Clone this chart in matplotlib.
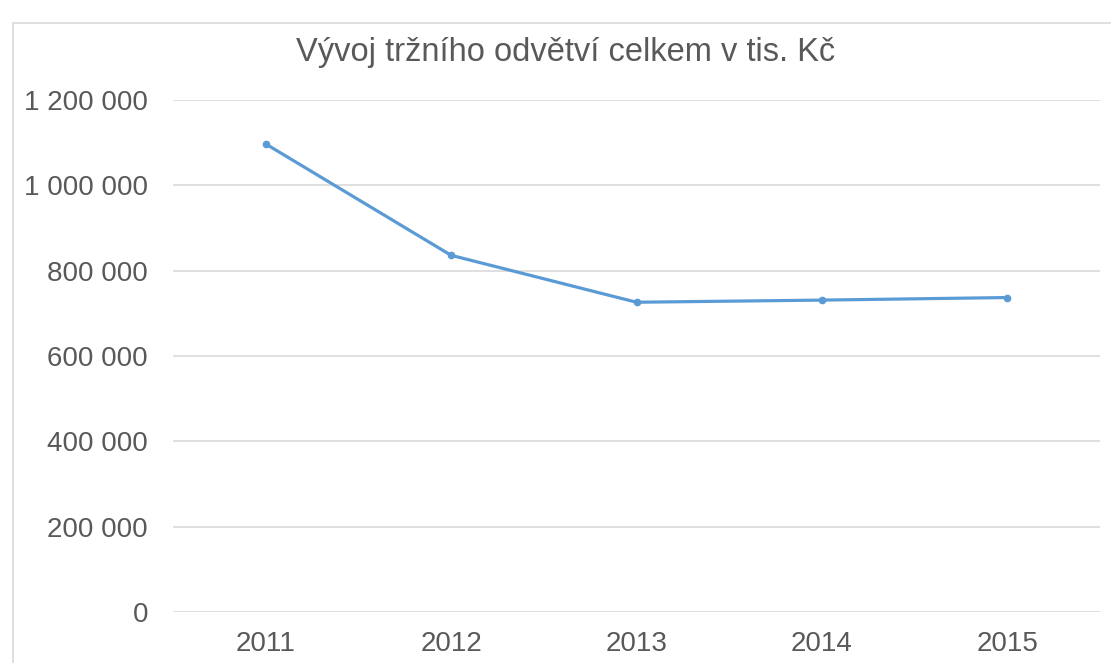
import matplotlib.pyplot as plt
from matplotlib.patches import Rectangle
from matplotlib.ticker import FuncFormatter

years = ['2011', '2012', '2013', '2014', '2015']
values = [1097000, 836000, 726000, 731000, 737000]

plt.rcParams['font.family'] = ['Liberation Sans', 'DejaVu Sans']
text_color = '#595959'

fig = plt.figure(figsize=(11.11, 6.63), dpi=100)
W, H = 1111, 663

# chart border (cut off on right and bottom)
fig.patches.append(Rectangle((13 / W, -0.1), 1.2, 1 - 23 / H + 0.1,
                             transform=fig.transFigure, fill=False,
                             edgecolor='#d9d9d9', linewidth=1.2))

ax = fig.add_axes([173 / W, 1 - 612 / H, (1100 - 173) / W, (612 - 100) / H])
x = range(len(years))
ax.plot(x, values, color='#5b9bd5', linewidth=2.3, marker='o', markersize=4.5)

ax.set_xlim(-0.5, len(years) - 0.5)
ax.set_ylim(0, 1200000)
ax.set_yticks(range(0, 1200001, 200000))
ax.yaxis.set_major_formatter(FuncFormatter(lambda v, p: f'{int(v):,}'.replace(',', ' ')))
ax.set_xticks(list(x))
ax.set_xticklabels(years)

ax.grid(axis='y', color='#d9d9d9', linewidth=1.2)
ax.set_axisbelow(True)
for s in ax.spines.values():
    s.set_visible(False)
ax.tick_params(axis='both', length=0, labelsize=20, labelcolor=text_color)
ax.tick_params(axis='y', pad=18)
ax.tick_params(axis='x', pad=14)

fig.text(566 / W, 1 - 53 / H, 'Vývoj tržního odvětví celkem v tis. Kč',
         ha='center', va='center', fontsize=23.5, color=text_color)

fig.savefig('out.png', dpi=100)
